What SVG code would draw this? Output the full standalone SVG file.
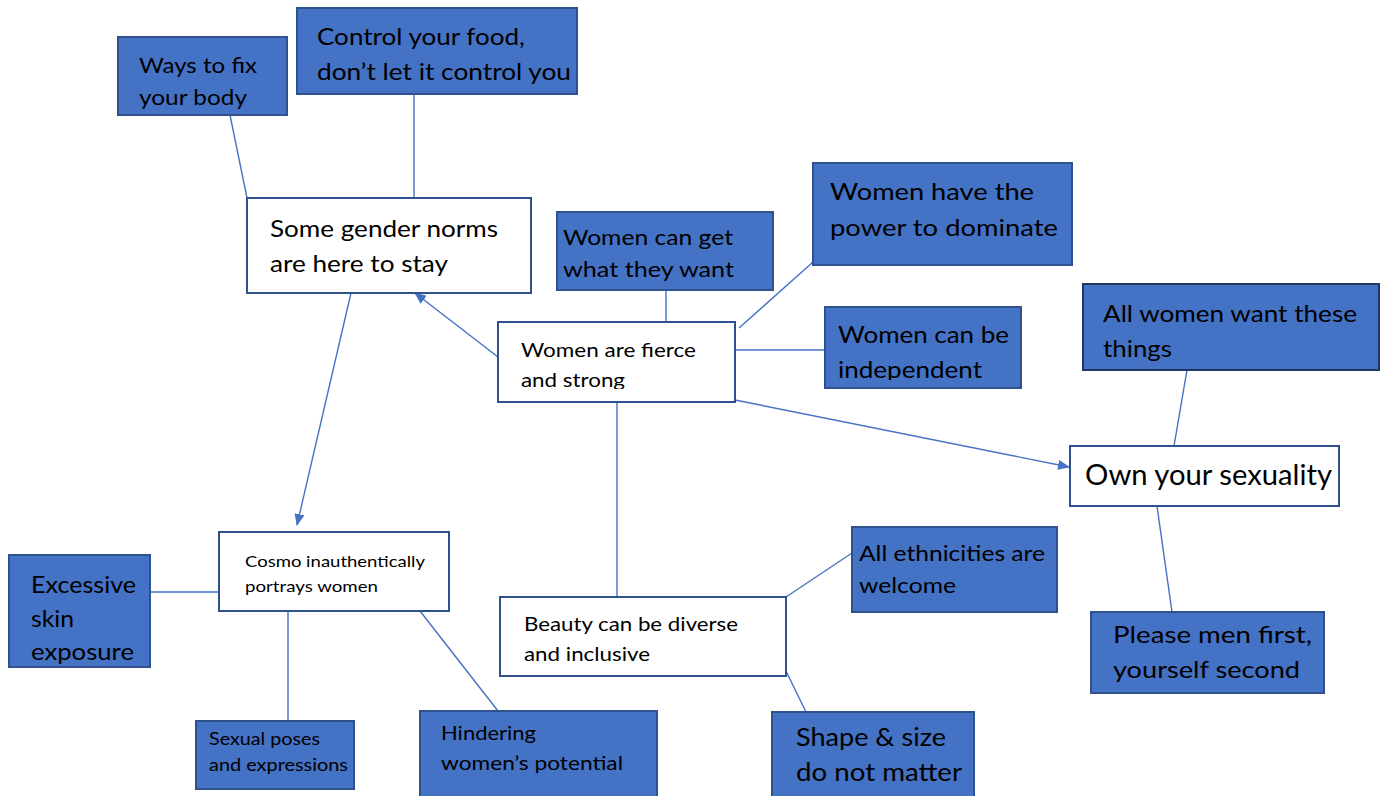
<svg xmlns="http://www.w3.org/2000/svg" width="1382" height="796" viewBox="0 0 1382 796">
<style>
.b{fill:#4472C4;stroke:#2F528F;stroke-width:2}
.w{fill:#ffffff;stroke:#2F528F;stroke-width:2}
text{font-family:Lato,"Open Sans",sans-serif;fill:#000}
.c line{stroke:#4472C4;stroke-width:1.4;fill:none}
</style>
<defs>
<marker id="ah" markerWidth="12" markerHeight="10" refX="11" refY="5" orient="auto" markerUnits="userSpaceOnUse">
<path d="M0,0 L12,5 L0,10 z" fill="#4472C4"/>
</marker>
<clipPath id="clipF"><rect x="498" y="322" width="237" height="67"/></clipPath>
<clipPath id="clipI"><rect x="825" y="307" width="196" height="73"/></clipPath>
</defs>
<rect width="1382" height="796" fill="#ffffff"/>
<g class="c" id="connectors">
<line x1="230" y1="115" x2="247" y2="198"/>
<line x1="414" y1="94" x2="414" y2="205"/>
<line x1="498" y1="357" x2="415" y2="293" marker-end="url(#ah)"/>
<line x1="351" y1="293" x2="297" y2="525" marker-end="url(#ah)"/>
<line x1="666" y1="290" x2="666" y2="322"/>
<line x1="813" y1="262" x2="739" y2="328"/>
<line x1="825" y1="350" x2="736" y2="350"/>
<line x1="735" y1="400" x2="1069" y2="467" marker-end="url(#ah)"/>
<line x1="617" y1="402" x2="617" y2="597"/>
<line x1="1187" y1="370" x2="1174" y2="446"/>
<line x1="1157" y1="506" x2="1172" y2="612"/>
<line x1="786" y1="597" x2="852" y2="553"/>
<line x1="786" y1="671" x2="806" y2="712"/>
<line x1="219" y1="592" x2="150" y2="592"/>
<line x1="288" y1="611" x2="288" y2="721"/>
<line x1="420" y1="611" x2="498" y2="711"/>
</g>
<g id="ways"><rect class="b" x="118" y="37" width="169" height="78"/><text x="139" y="73" font-size="22" textLength="118" lengthAdjust="spacingAndGlyphs">Ways to fix</text><text x="139" y="105" font-size="22" textLength="108" lengthAdjust="spacingAndGlyphs">your body</text></g>
<g id="control"><rect class="b" x="297" y="8" width="280" height="86"/><text x="317" y="45" font-size="24" textLength="208" lengthAdjust="spacingAndGlyphs">Control your food,</text><text x="317" y="80" font-size="24" textLength="254" lengthAdjust="spacingAndGlyphs">don’t let it control you</text></g>
<g id="norms"><rect class="w" x="247" y="198" width="284" height="95"/><text x="270" y="237" font-size="23" textLength="228" lengthAdjust="spacingAndGlyphs">Some gender norms</text><text x="270" y="272" font-size="23" textLength="178" lengthAdjust="spacingAndGlyphs">are here to stay</text></g>
<g id="getwant"><rect class="b" x="557" y="212" width="216" height="78"/><text x="563" y="245" font-size="22" textLength="170" lengthAdjust="spacingAndGlyphs">Women can get</text><text x="563" y="277" font-size="22" textLength="171" lengthAdjust="spacingAndGlyphs">what they want</text></g>
<g id="dominate"><rect class="b" x="813" y="163" width="259" height="102"/><text x="830" y="200" font-size="24" textLength="204" lengthAdjust="spacingAndGlyphs">Women have the</text><text x="830" y="236" font-size="24" textLength="228" lengthAdjust="spacingAndGlyphs">power to dominate</text></g>
<g id="fierce"><rect class="w" x="498" y="322" width="237" height="80"/><g clip-path="url(#clipF)"><text x="521" y="357" font-size="20" textLength="175" lengthAdjust="spacingAndGlyphs">Women are fierce</text><text x="521" y="387" font-size="20" textLength="104" lengthAdjust="spacingAndGlyphs">and strong</text></g></g>
<g id="independent"><rect class="b" x="825" y="307" width="196" height="81"/><g clip-path="url(#clipI)"><text x="838" y="343" font-size="23" textLength="171" lengthAdjust="spacingAndGlyphs">Women can be</text><text x="838" y="378" font-size="23" textLength="144" lengthAdjust="spacingAndGlyphs">independent</text></g></g>
<g id="allwomen"><rect class="b" x="1083" y="284" width="296" height="86" style="stroke:#1F3864"/><text x="1103" y="322" font-size="23" textLength="254" lengthAdjust="spacingAndGlyphs">All women want these</text><text x="1103" y="357" font-size="23" textLength="69" lengthAdjust="spacingAndGlyphs">things</text></g>
<g id="own"><rect class="w" x="1070" y="446" width="269" height="60"/><text x="1085" y="485" font-size="28" textLength="247" lengthAdjust="spacingAndGlyphs">Own your sexuality</text></g>
<g id="cosmo"><rect class="w" x="219" y="532" width="230" height="79"/><text x="245" y="567" font-size="16" textLength="180" lengthAdjust="spacingAndGlyphs">Cosmo inauthentically</text><text x="245" y="592" font-size="16" textLength="133" lengthAdjust="spacingAndGlyphs">portrays women</text></g>
<g id="excessive"><rect class="b" x="9" y="555" width="141" height="112"/><text x="31" y="593" font-size="24" textLength="105" lengthAdjust="spacingAndGlyphs">Excessive</text><text x="31" y="627" font-size="24" textLength="43" lengthAdjust="spacingAndGlyphs">skin</text><text x="31" y="660" font-size="24" textLength="103" lengthAdjust="spacingAndGlyphs">exposure</text></g>
<g id="poses"><rect class="b" x="196" y="721" width="158" height="68"/><text x="209" y="745" font-size="17" textLength="111" lengthAdjust="spacingAndGlyphs">Sexual poses</text><text x="209" y="771" font-size="17" textLength="139" lengthAdjust="spacingAndGlyphs">and expressions</text></g>
<g id="hindering"><rect class="b" x="420" y="711" width="237" height="90"/><text x="441" y="740" font-size="19" textLength="95" lengthAdjust="spacingAndGlyphs">Hindering</text><text x="441" y="770" font-size="19" textLength="182" lengthAdjust="spacingAndGlyphs">women’s potential</text></g>
<g id="beauty"><rect class="w" x="500" y="597" width="286" height="79"/><text x="524" y="631" font-size="19" textLength="214" lengthAdjust="spacingAndGlyphs">Beauty can be diverse</text><text x="524" y="661" font-size="19" textLength="126" lengthAdjust="spacingAndGlyphs">and inclusive</text></g>
<g id="ethnicities"><rect class="b" x="852" y="527" width="205" height="85"/><text x="859" y="561" font-size="22" textLength="186" lengthAdjust="spacingAndGlyphs">All ethnicities are</text><text x="859" y="593" font-size="22" textLength="97" lengthAdjust="spacingAndGlyphs">welcome</text></g>
<g id="shape"><rect class="b" x="772" y="712" width="202" height="90"/><text x="796" y="746" font-size="25" textLength="150" lengthAdjust="spacingAndGlyphs">Shape &amp; size</text><text x="796" y="781" font-size="25" textLength="166" lengthAdjust="spacingAndGlyphs">do not matter</text></g>
<g id="please"><rect class="b" x="1091" y="612" width="233" height="81"/><text x="1113" y="643" font-size="24" textLength="199" lengthAdjust="spacingAndGlyphs">Please men first,</text><text x="1113" y="678" font-size="24" textLength="187" lengthAdjust="spacingAndGlyphs">yourself second</text></g>
</svg>
